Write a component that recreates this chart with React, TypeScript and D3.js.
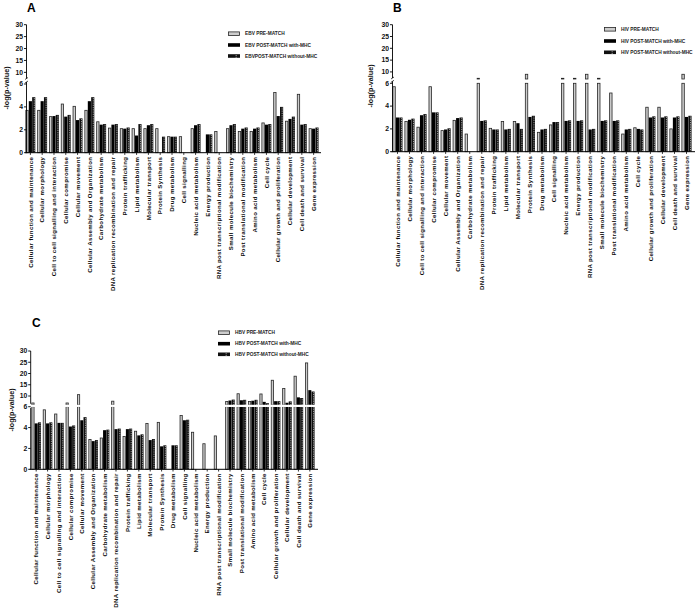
import React from "react";
import * as d3 from "d3";

const categories = [
  "Cellular function and maintenance",
  "Cellular morphology",
  "Cell to cell signalling and interaction",
  "Cellular compromise",
  "Cellular movement",
  "Cellular Assembly and Organization",
  "Carbohydrate metabolism",
  "DNA replication recombination and repair",
  "Protein trafficking",
  "Lipid metabolism",
  "Molecular transport",
  "Protein Synthesis",
  "Drug metabolism",
  "Cell signalling",
  "Nucleic acid metabolism",
  "Energy production",
  "RNA post transcriptional modification",
  "Small molecule biochemistry",
  "Post translational modification",
  "Amino acid metabolism",
  "Cell cycle",
  "Cellular growth and proliferation",
  "Cellular development",
  "Cell death and survival",
  "Gene expression",
];

const ebvPre = [3.7, 3.7, 3.15, 4.25, 4.05, 3.7, 2.7, 2.15, 2.1, 2.1, 2.1, 2.1, 1.4, 1.4, 2.1, 0, 1.85, 2.1, 1.85, 1.85, 2.6, 5.25, 2.75, 5.1, 2.1];
const ebvWith = [4.5, 4.5, 3.2, 3.15, 2.85, 4.5, 2.45, 2.45, 2.1, 1.5, 2.4, 0, 1.4, 0, 2.4, 1.6, 0, 2.4, 2.1, 2.1, 2.45, 3.2, 2.95, 2.45, 2.1];
const ebvWithout = [4.85, 4.85, 3.3, 3.3, 3.0, 4.85, 2.5, 2.5, 2.2, 2.5, 2.5, 1.4, 1.4, 0, 2.5, 1.6, 0, 2.5, 2.2, 2.2, 2.5, 4.0, 3.15, 2.5, 2.2];

const hivPre = [5.7, 2.65, 2.15, 5.7, 1.85, 2.75, 1.55, 7.3, 2.05, 2.65, 2.65, 9, 1.7, 2.35, 7.3, 7.3, 9, 7.3, 5.15, 1.55, 2.1, 3.9, 3.9, 2.0, 9];
const hivWith = [3.0, 2.8, 3.2, 3.45, 1.95, 2.95, 0, 2.7, 1.95, 1.95, 2.5, 3.05, 1.95, 2.6, 2.7, 2.7, 1.95, 2.7, 2.7, 1.95, 2.0, 3.0, 3.0, 3.0, 3.05];
const hivWithout = [3.0, 2.9, 3.3, 3.45, 2.05, 3.0, 0, 2.75, 1.95, 2.0, 2.0, 3.15, 2.0, 2.6, 2.75, 2.75, 2.0, 2.75, 2.75, 2.0, 1.95, 3.1, 3.1, 3.1, 3.15];

const hbvPre = [6.9, 5.7, 5.3, 6.9, 10.6, 2.85, 3.0, 7.7, 3.15, 3.65, 4.4, 4.5, 0, 5.15, 3.55, 2.45, 3.2, 7.6, 11.0, 7.6, 10.9, 17.0, 13.3, 18.8, 24.7];
const hbvWith = [4.4, 4.4, 4.45, 4.1, 4.7, 2.7, 3.75, 3.85, 3.85, 3.25, 2.8, 2.2, 2.3, 4.7, 0, 0, 0, 8.0, 8.1, 7.9, 7.4, 7.7, 7.0, 9.4, 12.6];
const hbvWithout = [4.5, 4.5, 4.45, 4.2, 5.0, 2.8, 3.8, 3.9, 3.9, 3.35, 2.9, 2.3, 2.3, 4.75, 0, 0, 0, 8.4, 8.3, 8.3, 6.8, 7.7, 7.6, 9.1, 12.0];

const lowerTicks = [0, 2, 4, 6];
const upperTicks = [10, 15, 20, 25, 30];
const seriesKeys = ["pre", "with", "without"];
const ebvLegend = ["EBV PRE-MATCH", "EBV POST-MATCH with-MHC", "EBVPOST-MATCH without-MHC"];
const hivLegend = ["HIV PRE-MATCH", "HIV POST-MATCH with-MHC", "HIV POST-MATCH without-MHC"];
const hbvLegend = ["HBV PRE-MATCH", "HBV POST-MATCH with-MHC", "HBV POST-MATCH without-MHC"];
const yTitle = "-log(p-value)";

const FONT = "'Liberation Sans', Arial, Helvetica, sans-serif";

type PanelCfg = {
  letter: string;
  letterX: number;
  letterY: number;
  axisX: number;
  xStart: number;
  xEnd: number;
  axisEnd: number;
  lowerRange: [number, number];
  upperDomainStart: number;
  upperRange: [number, number];
  breakStyle: "gap" | "line";
  legendX: number;
  legendYs: number[];
  legendLabels: string[];
  titleX: number;
  titleY: number;
  series: number[][];
};

function BarShape({ kind, x, y, w, h }: { kind: string; x: number; y: number; w: number; h: number }) {
  if (h <= 0) return null;
  if (kind === "pre") {
    return <rect x={x + 0.4} y={y} width={Math.max(w - 0.8, 0.5)} height={h} fill="#cdcdcd" stroke="#262626" strokeWidth={0.8} />;
  }
  if (kind === "with") {
    return <rect x={x} y={y} width={w} height={h} fill="#000" />;
  }
  return (
    <g>
      <rect x={x} y={y} width={w} height={h} fill="#111" />
      <line x1={x + w * 0.68} x2={x + w * 0.68} y1={y + 0.8} y2={y + h} stroke="#fff" strokeWidth={0.7} strokeDasharray="0.9,0.9" />
    </g>
  );
}

function Panel({ cfg }: { cfg: PanelCfg }) {
  const x0 = d3.scaleBand<string>().domain(categories).range([cfg.xStart, cfg.xEnd]).paddingInner(0.13).paddingOuter(0.02);
  const x1 = d3.scaleBand<string>().domain(seriesKeys).range([0, x0.bandwidth()]).padding(0.06);
  const lower = d3.scaleLinear().domain([0, 6]).range(cfg.lowerRange);
  const upper = d3.scaleLinear().domain([cfg.upperDomainStart, 30]).range(cfg.upperRange);
  const base = lower(0);

  const bars: React.ReactNode[] = [];
  categories.forEach((c, i) => {
    seriesKeys.forEach((k, si) => {
      const v = cfg.series[si][i];
      if (!v) return;
      const bx = (x0(c) as number) + (x1(k) as number);
      const bw = x1.bandwidth();
      if (v <= 6) {
        bars.push(<BarShape key={`${i}-${k}`} kind={k} x={bx} y={lower(v)} w={bw} h={base - lower(v)} />);
      } else {
        bars.push(<BarShape key={`${i}-${k}-l`} kind={k} x={bx} y={lower(6)} w={bw} h={base - lower(6)} />);
        if (v > cfg.upperDomainStart) {
          const top = upper(v);
          const bot = upper(cfg.upperDomainStart);
          bars.push(<BarShape key={`${i}-${k}-u`} kind={k} x={bx} y={top} w={bw} h={Math.max(bot - top, 0.6)} />);
        }
      }
    });
  });

  const ax = cfg.axisX;
  return (
    <g fontFamily={FONT}>
      <text x={cfg.letterX} y={cfg.letterY} fontSize={12} fontWeight="bold" fill="#000">{cfg.letter}</text>
      <text transform={`translate(${cfg.titleX},${cfg.titleY}) rotate(-90)`} textAnchor="middle" fontSize={7.2} fontWeight="bold" fill="#111">{yTitle}</text>
      {bars}
      {cfg.breakStyle === "line" && (
        <rect x={ax - 3} y={(lower(6) + upper(cfg.upperDomainStart)) / 2 - 1.1} width={cfg.axisEnd - ax + 3} height={2.2} fill="#fff" />
      )}
      {cfg.breakStyle === "gap" ? (
        <g stroke="#000" strokeWidth={0.9}>
          <line x1={ax} x2={ax} y1={base} y2={lower(6) - 2} />
          <line x1={ax} x2={ax} y1={upper(cfg.upperDomainStart) - 1} y2={upper(30)} />
          <line x1={ax - 1.5} x2={ax + 1.5} y1={lower(6) - 1} y2={lower(6) - 3} strokeWidth={0.7} />
          <line x1={ax - 1.5} x2={ax + 1.5} y1={upper(cfg.upperDomainStart)} y2={upper(cfg.upperDomainStart) - 2} strokeWidth={0.7} />
        </g>
      ) : (
        <g stroke="#000" strokeWidth={0.9}>
          <line x1={ax} x2={ax} y1={base} y2={lower(6) + 1.2} />
          <line x1={ax} x2={ax} y1={upper(cfg.upperDomainStart) - 1.2} y2={upper(30)} />
        </g>
      )}
      {lowerTicks.map((t) => (
        <g key={`lt${t}`}>
          <line x1={ax - 2.5} x2={ax} y1={lower(t)} y2={lower(t)} stroke="#000" strokeWidth={0.9} />
          <text x={ax - 3.5} y={lower(t)} dy="0.35em" textAnchor="end" fontSize={6.8} fontWeight="bold" fill="#111">{t}</text>
        </g>
      ))}
      {upperTicks.map((t) => (
        <g key={`ut${t}`}>
          <line x1={ax - 2.5} x2={ax} y1={upper(t)} y2={upper(t)} stroke="#000" strokeWidth={0.9} />
          <text x={ax - 3.5} y={upper(t)} dy="0.35em" textAnchor="end" fontSize={6.8} fontWeight="bold" fill="#111">{t}</text>
        </g>
      ))}
      <line x1={ax - 1} x2={cfg.axisEnd} y1={base} y2={base} stroke="#000" strokeWidth={1} />
      {categories.map((c) => {
        const cx = (x0(c) as number) + x0.bandwidth() / 2;
        return (
          <g key={`xt-${c}`}>
            <line x1={cx} x2={cx} y1={base} y2={base + 2.2} stroke="#000" strokeWidth={0.8} />
            <text transform={`translate(${cx},${base + 4}) rotate(-90)`} dy="0.35em" textAnchor="end" fontSize={6.1} letterSpacing={0.35} fontWeight="bold" fill="#0a0a0a">{c}</text>
          </g>
        );
      })}
      {cfg.legendLabels.map((l, i) => (
        <g key={`lg${i}`}>
          <BarShape kind={seriesKeys[i]} x={cfg.legendX} y={cfg.legendYs[i] - 1.8} w={12} h={3.6} />
          <text x={cfg.legendX + 17} y={cfg.legendYs[i]} dy="0.35em" fontSize={4.8} fontWeight="bold" fill="#222">{l}</text>
        </g>
      ))}
    </g>
  );
}

const panelA: PanelCfg = {
  letter: "A", letterX: 27, letterY: 12,
  axisX: 26.5, xStart: 25, xEnd: 319, axisEnd: 321,
  lowerRange: [152.7, 84], upperDomainStart: 7, upperRange: [79.5, 24.7], breakStyle: "gap",
  legendX: 228, legendYs: [33.7, 45, 56], legendLabels: ebvLegend,
  titleX: 9, titleY: 88,
  series: [ebvPre, ebvWith, ebvWithout],
};

const panelB: PanelCfg = {
  letter: "B", letterX: 393, letterY: 12,
  axisX: 392.5, xStart: 392, xEnd: 692, axisEnd: 695,
  lowerRange: [151.7, 83.3], upperDomainStart: 7, upperRange: [79, 24.7], breakStyle: "gap",
  legendX: 604, legendYs: [29.3, 41, 52.3], legendLabels: hivLegend,
  titleX: 373, titleY: 86,
  series: [hivPre, hivWith, hivWithout],
};

const panelC: PanelCfg = {
  letter: "C", letterX: 32, letterY: 327,
  axisX: 30.7, xStart: 31, xEnd: 315, axisEnd: 318,
  lowerRange: [469.3, 406.7], upperDomainStart: 6, upperRange: [405, 351], breakStyle: "line",
  legendX: 218, legendYs: [332.7, 343.7, 354.3], legendLabels: hbvLegend,
  titleX: 14, titleY: 410,
  series: [hbvPre, hbvWith, hbvWithout],
};

export default function App() {
  return (
    <div style={{ position: "absolute", left: 0, top: 0 }}>
      <svg width={699} height={610} viewBox="0 0 699 610" style={{ display: "block", background: "#fff" }}>
        <rect width={699} height={610} fill="#fff" />
        <Panel cfg={panelA} />
        <Panel cfg={panelB} />
        <Panel cfg={panelC} />
      </svg>
    </div>
  );
}
